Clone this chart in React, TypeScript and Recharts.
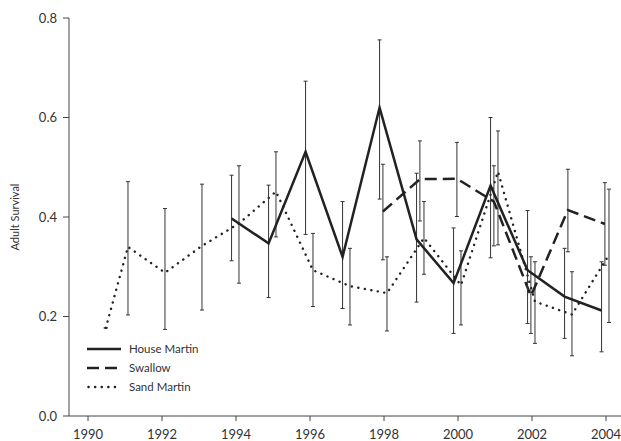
import {
  ErrorBar,
  Line,
  LineChart,
  XAxis,
  YAxis,
} from "recharts";

const FONT = "Lato, 'DejaVu Sans', sans-serif";
const INK = "#222";

// House Martin
const houseYears = [1994, 1995, 1996, 1997, 1998, 1999, 2000, 2001, 2002, 2003, 2004];
const houseValues = [0.397, 0.347, 0.531, 0.32, 0.62, 0.355, 0.267, 0.463, 0.293, 0.24, 0.212];
const houseLow = [0.312, 0.238, 0.365, 0.216, 0.436, 0.229, 0.166, 0.318, 0.186, 0.156, 0.129];
const houseHigh = [0.484, 0.464, 0.673, 0.431, 0.756, 0.488, 0.378, 0.6, 0.413, 0.337, 0.31];

// Swallow
const swallowYears = [1998, 1999, 2000, 2001, 2002, 2003, 2004];
const swallowValues = [0.411, 0.476, 0.477, 0.431, 0.241, 0.414, 0.386];
const swallowLow = [0.314, 0.392, 0.401, 0.342, 0.166, 0.33, 0.303];
const swallowHigh = [0.506, 0.553, 0.55, 0.503, 0.32, 0.496, 0.469];

// Sand Martin (first estimate has no interval)
const sandYears = [1990.4, 1991, 1992, 1993, 1994, 1995, 1996, 1997, 1998, 1999, 2000, 2001, 2002, 2003, 2004];
const sandValues = [0.177, 0.34, 0.288, 0.342, 0.387, 0.451, 0.293, 0.261, 0.247, 0.358, 0.263, 0.491, 0.23, 0.204, 0.324];
const sandLow = [null, 0.203, 0.174, 0.213, 0.267, 0.36, 0.22, 0.183, 0.171, 0.285, 0.183, 0.344, 0.146, 0.121, 0.188];
const sandHigh = [null, 0.471, 0.417, 0.466, 0.503, 0.531, 0.367, 0.337, 0.32, 0.431, 0.332, 0.573, 0.31, 0.29, 0.456];

const yearTicks = [1990, 1992, 1994, 1996, 1998, 2000, 2002, 2004];
const survivalTicks = [0, 0.2, 0.4, 0.6, 0.8];

// small horizontal dodge so the error bars don't sit on top of each other
function buildSeries(
  years: number[],
  values: number[],
  low: (number | null)[],
  high: (number | null)[],
  dodge: number,
) {
  return years.map((year, i) => ({
    x: year + dodge,
    y: values[i],
    err:
      low[i] == null || high[i] == null
        ? [0, 0]
        : [values[i] - (low[i] as number), (high[i] as number) - values[i]],
  }));
}

const houseData = buildSeries(houseYears, houseValues, houseLow, houseHigh, -0.12);
const swallowData = buildSeries(swallowYears, swallowValues, swallowLow, swallowHigh, -0.03);
const sandData = buildSeries(sandYears, sandValues, sandLow, sandHigh, 0.08);

const LEGEND_ITEMS = [
  { label: "House Martin", dash: undefined },
  { label: "Swallow", dash: "12 6" },
  { label: "Sand Martin", dash: "0.1 6.5" },
];

function SurvivalLegend() {
  return (
    <svg width={130} height={60} style={{ position: "absolute", left: 87, top: 340 }}>
      {LEGEND_ITEMS.map((item, i) => (
        <g key={item.label} transform={`translate(0, ${9 + i * 19})`}>
          <line
            x1={item.dash === "0.1 6.5" ? 1.5 : 0}
            x2={34}
            y1={0}
            y2={0}
            stroke={INK}
            strokeWidth={2.5}
            strokeDasharray={item.dash}
            strokeLinecap={item.dash === "0.1 6.5" ? "round" : "butt"}
          />
          <text x={42} y={4} fontSize={11.5} fontFamily={FONT} fill="#333">
            {item.label}
          </text>
        </g>
      ))}
    </svg>
  );
}

export default function App() {
  return (
    <div style={{ position: "absolute", left: 0, top: 0, width: 621, height: 441, background: "#fff" }}>
      <LineChart
        width={621}
        height={441}
        margin={{ top: 18, right: 0, bottom: 0, left: 0 }}
      >
        <XAxis
          type="number"
          dataKey="x"
          domain={[1989.486, 2004.405]}
          allowDataOverflow
          ticks={yearTicks}
          tickSize={5}
          tickMargin={9}
          height={25}
          stroke="#444"
          tick={{ fill: "#333", fontSize: 13, fontFamily: FONT }}
        />
        <YAxis
          type="number"
          domain={[0, 0.8]}
          ticks={survivalTicks}
          width={69}
          tickSize={6}
          tickMargin={6}
          stroke="#444"
          tickFormatter={(v: number) => v.toFixed(1)}
          tick={{ fill: "#333", fontSize: 13, fontFamily: FONT }}
          label={{
            content: () => (
              <text
                x={19}
                y={217}
                transform="rotate(-90 19 217)"
                textAnchor="middle"
                fontSize={11}
                fontFamily={FONT}
                fill="#333"
              >
                Adult Survival
              </text>
            ),
          }}
        />
        <Line
          data={sandData}
          dataKey="y"
          name="Sand Martin"
          stroke={INK}
          strokeWidth={2.4}
          strokeDasharray="0.1 6.5"
          strokeLinecap="round"
          dot={false}
          isAnimationActive={false}
        >
          <ErrorBar dataKey="err" width={2} stroke="#333" strokeWidth={1} />
        </Line>
        <Line
          data={swallowData}
          dataKey="y"
          name="Swallow"
          stroke={INK}
          strokeWidth={2.5}
          strokeDasharray="12 6"
          dot={false}
          isAnimationActive={false}
        >
          <ErrorBar dataKey="err" width={2} stroke="#333" strokeWidth={1} />
        </Line>
        <Line
          data={houseData}
          dataKey="y"
          name="House Martin"
          stroke={INK}
          strokeWidth={2.5}
          dot={false}
          isAnimationActive={false}
        >
          <ErrorBar dataKey="err" width={2} stroke="#333" strokeWidth={1} />
        </Line>
      </LineChart>
      <SurvivalLegend />
    </div>
  );
}
